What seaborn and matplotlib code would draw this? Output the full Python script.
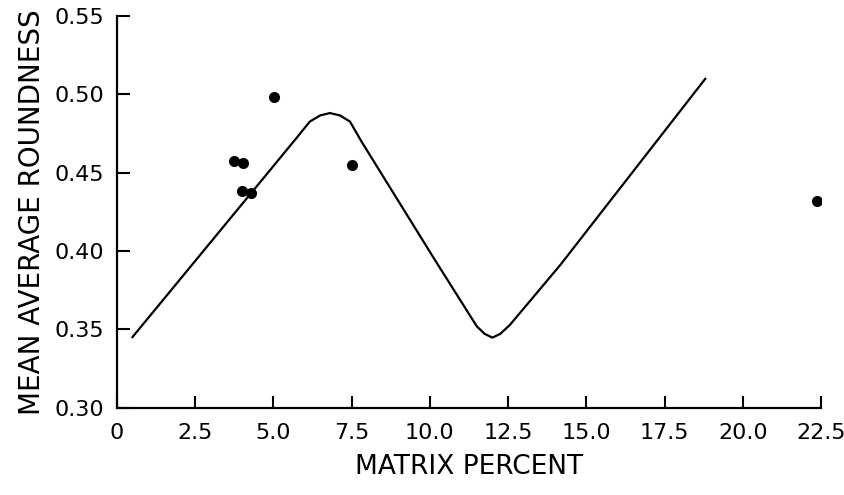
import matplotlib
matplotlib.use("Agg")
import matplotlib.pyplot as plt
import seaborn as sns
import pandas as pd

# Observed points
pt_x = [5.02, 3.74, 4.03, 4.00, 4.28, 7.51, 22.37]
pt_y = [0.498, 0.4575, 0.456, 0.438, 0.437, 0.455, 0.432]

# Trend curve
line_x = [0.5, 5.74, 6.17, 6.5, 6.81, 7.13, 7.45, 7.82, 10.16, 11.5, 11.75, 12.0, 12.25, 12.56, 14.16, 18.8]
line_y = [0.345, 0.472, 0.4826, 0.4865, 0.488, 0.4865, 0.4826, 0.4698, 0.3944, 0.352, 0.3472, 0.3448, 0.3472, 0.353, 0.391, 0.510]

x_ticks = [0, 2.5, 5.0, 7.5, 10.0, 12.5, 15.0, 17.5, 20.0, 22.5]
x_labels = ["0", "2.5", "5.0", "7.5", "10.0", "12.5", "15.0", "17.5", "20.0", "22.5"]
y_ticks = [0.30, 0.35, 0.40, 0.45, 0.50, 0.55]
y_labels = ["0.30", "0.35", "0.40", "0.45", "0.50", "0.55"]

sns.set_theme(style="ticks")
plt.rcParams['font.family'] = ['DejaVu Sans']
plt.rcParams['text.color'] = 'black'
plt.rcParams['axes.labelcolor'] = 'black'

fig = plt.figure(figsize=(8.45, 4.95), dpi=100)
ax = fig.add_axes([0.138, 0.176, 0.834, 0.792])

df_pts = pd.DataFrame({"x": pt_x, "y": pt_y})
df_line = pd.DataFrame({"x": line_x, "y": line_y})

sns.lineplot(data=df_line, x="x", y="y", sort=False, estimator=None,
             color="black", linewidth=1.6, ax=ax)
sns.scatterplot(data=df_pts, x="x", y="y", color="black", s=64,
                edgecolor="black", linewidth=0, ax=ax, zorder=3)

ax.set_xlim(0, 22.5)
ax.set_ylim(0.30, 0.55)
ax.set_xticks(x_ticks)
ax.set_xticklabels(x_labels)
ax.set_yticks(y_ticks)
ax.set_yticklabels(y_labels)
ax.tick_params(direction="in", length=9, width=1.5, labelsize=16, pad=9, colors="black")
ax.tick_params(axis="x", pad=11)
for s in ["top", "right"]:
    ax.spines[s].set_visible(False)
for s in ["left", "bottom"]:
    ax.spines[s].set_linewidth(1.6)
    ax.spines[s].set_color("black")

ax.set_xlabel("MATRIX PERCENT", fontsize=19, labelpad=8)
ax.set_ylabel("MEAN AVERAGE ROUNDNESS", fontsize=20, labelpad=6)

fig.savefig("out.png", dpi=100)
